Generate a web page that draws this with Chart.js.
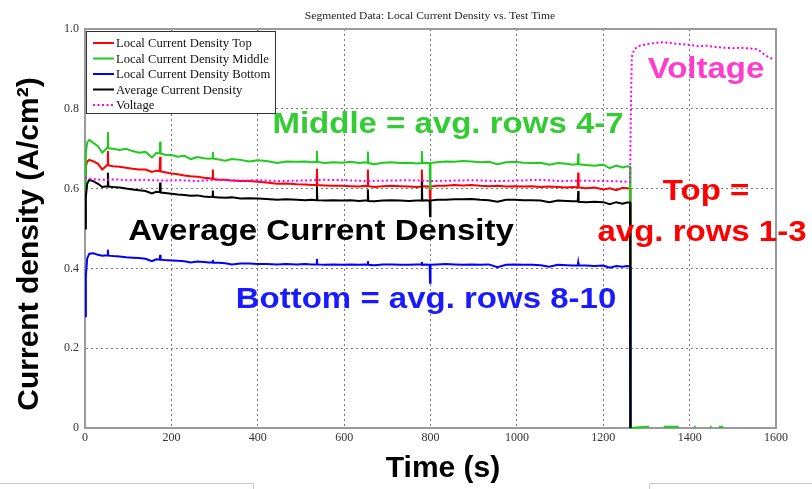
<!DOCTYPE html>
<html>
<head>
<meta charset="utf-8">
<script src="https://cdn.jsdelivr.net/npm/chart.js@4.4.1/dist/chart.umd.min.js"></script>
<style>
  html, body { margin: 0; padding: 0; background: #fff; }
  #wrap { width: 812px; height: 489px; }
</style>
</head>
<body>
<div id="wrap"><canvas id="chart" width="812" height="489"></canvas></div>
<script>
// time axis (s) shared by the four current density traces
const timeCur = [
  0, 2, 5, 10, 20, 30, 40, 52, 53, 54,
  65, 80, 95, 110, 125, 140, 155, 165, 173, 174,
  175, 185, 200, 215, 230, 245, 260, 275, 288, 295,
  296, 297, 310, 325, 340, 360, 380, 400, 420, 445,
  465, 490, 510, 525, 536, 537, 538, 555, 575, 595,
  615, 635, 648, 654, 655, 656, 670, 690, 710, 730,
  750, 768, 779, 780, 781, 790, 798, 799, 800, 815,
  835, 855, 875, 895, 915, 935, 955, 975, 995, 1015,
  1035, 1055, 1075, 1095, 1115, 1130, 1141, 1142, 1143, 1160,
  1180, 1200, 1215, 1230, 1245, 1255, 1262, 1263
];

const topVals = [
  0.620, 0.655, 0.668, 0.672, 0.668, 0.662, 0.648, 0.660, 0.694, 0.658,
  0.656, 0.655, 0.652, 0.650, 0.648, 0.648, 0.642, 0.645, 0.644, 0.680,
  0.643, 0.641, 0.638, 0.636, 0.633, 0.631, 0.630, 0.627, 0.626, 0.625,
  0.648, 0.624, 0.622, 0.622, 0.620, 0.619, 0.619, 0.617, 0.615, 0.612,
  0.613, 0.611, 0.610, 0.609, 0.609, 0.650, 0.609, 0.608, 0.607, 0.607,
  0.606, 0.605, 0.607, 0.606, 0.648, 0.606, 0.604, 0.606, 0.607, 0.606,
  0.605, 0.604, 0.605, 0.648, 0.605, 0.606, 0.605, 0.573, 0.605, 0.607,
  0.607, 0.609, 0.608, 0.609, 0.607, 0.606, 0.607, 0.605, 0.606, 0.605,
  0.606, 0.604, 0.605, 0.604, 0.603, 0.604, 0.603, 0.640, 0.603, 0.601,
  0.603, 0.598, 0.601, 0.596, 0.602, 0.601, 0.600, 0
];

const middleVals = [
  0.600, 0.690, 0.716, 0.722, 0.714, 0.706, 0.690, 0.703, 0.742, 0.701,
  0.700, 0.697, 0.700, 0.694, 0.690, 0.692, 0.678, 0.689, 0.688, 0.718,
  0.688, 0.685, 0.684, 0.680, 0.682, 0.674, 0.679, 0.676, 0.675, 0.676,
  0.692, 0.675, 0.673, 0.670, 0.674, 0.672, 0.668, 0.671, 0.669, 0.664,
  0.668, 0.667, 0.668, 0.666, 0.667, 0.694, 0.667, 0.664, 0.666, 0.665,
  0.667, 0.664, 0.666, 0.665, 0.693, 0.664, 0.661, 0.665, 0.666, 0.664,
  0.665, 0.663, 0.664, 0.694, 0.664, 0.665, 0.664, 0.600, 0.664, 0.666,
  0.668, 0.667, 0.669, 0.668, 0.666, 0.667, 0.661, 0.666, 0.667, 0.665,
  0.664, 0.665, 0.660, 0.664, 0.662, 0.660, 0.662, 0.688, 0.661, 0.659,
  0.657, 0.660, 0.651, 0.658, 0.653, 0.656, 0.655, 0
];

const bottomVals = [
  0.280, 0.380, 0.425, 0.437, 0.438, 0.434, 0.432, 0.433, 0.447, 0.432,
  0.431, 0.430, 0.428, 0.427, 0.426, 0.424, 0.418, 0.423, 0.422, 0.434,
  0.422, 0.421, 0.420, 0.419, 0.418, 0.415, 0.417, 0.416, 0.415, 0.415,
  0.421, 0.414, 0.414, 0.413, 0.410, 0.412, 0.412, 0.411, 0.411, 0.410,
  0.411, 0.410, 0.411, 0.410, 0.410, 0.424, 0.410, 0.409, 0.410, 0.409,
  0.410, 0.409, 0.410, 0.409, 0.418, 0.409, 0.408, 0.410, 0.410, 0.409,
  0.409, 0.410, 0.410, 0.416, 0.409, 0.410, 0.409, 0.364, 0.409, 0.410,
  0.411, 0.410, 0.409, 0.410, 0.409, 0.410, 0.403, 0.409, 0.410, 0.409,
  0.409, 0.408, 0.404, 0.409, 0.408, 0.407, 0.408, 0.415, 0.407, 0.407,
  0.406, 0.407, 0.402, 0.406, 0.404, 0.406, 0.405, 0
];

const averageVals = [
  0.500, 0.580, 0.612, 0.622, 0.618, 0.612, 0.604, 0.606, 0.640, 0.605,
  0.604, 0.603, 0.600, 0.598, 0.596, 0.594, 0.588, 0.592, 0.591, 0.615,
  0.590, 0.589, 0.587, 0.585, 0.584, 0.582, 0.583, 0.580, 0.579, 0.580,
  0.595, 0.579, 0.578, 0.577, 0.578, 0.575, 0.576, 0.575, 0.574, 0.572,
  0.573, 0.572, 0.571, 0.572, 0.571, 0.606, 0.571, 0.570, 0.571, 0.570,
  0.571, 0.569, 0.570, 0.570, 0.598, 0.569, 0.568, 0.570, 0.571, 0.570,
  0.569, 0.570, 0.570, 0.619, 0.570, 0.571, 0.570, 0.531, 0.570, 0.572,
  0.572, 0.573, 0.573, 0.574, 0.572, 0.571, 0.567, 0.572, 0.572, 0.571,
  0.571, 0.570, 0.566, 0.570, 0.569, 0.568, 0.568, 0.594, 0.567, 0.566,
  0.567, 0.566, 0.561, 0.566, 0.562, 0.565, 0.565, 0
];

// short green blips sitting on the axis after the load is switched off
const middleTailTimes = [1300, 1306, 1308, 1340, 1375, 1377, 1410, 1414, 1416, 1447, 1451, 1453, 1468, 1478];
const middleTailVals  = [0.003, 0.003, null, 0.003, 0.003, null, 0.003, 0.003, null, 0.003, 0.003, null, 0.003, 0.003];

const voltTimes = [
  0, 15, 40, 70, 100, 140, 180, 220, 260, 300,
  350, 400, 450, 500, 550, 600, 650, 700, 750, 800,
  850, 900, 950, 1000, 1050, 1100, 1150, 1200, 1240, 1262,
  1264, 1266, 1272, 1285, 1300, 1320, 1340, 1360, 1380, 1400,
  1420, 1440, 1460, 1480, 1500, 1520, 1540, 1552, 1562, 1572,
  1582, 1592
];
const voltVals = [
  0.628, 0.624, 0.622, 0.623, 0.621, 0.622, 0.620, 0.621, 0.619, 0.622,
  0.620, 0.621, 0.619, 0.620, 0.622, 0.621, 0.619, 0.620, 0.621, 0.619,
  0.620, 0.621, 0.619, 0.620, 0.622, 0.619, 0.620, 0.619, 0.618, 0.617,
  0.800, 0.930, 0.950, 0.958, 0.962, 0.965, 0.967, 0.964, 0.962, 0.960,
  0.957, 0.958, 0.955, 0.953, 0.952, 0.953, 0.951, 0.950, 0.945, 0.937,
  0.930, 0.925
];

const xTicks = [0, 200, 400, 600, 800, 1000, 1200, 1400, 1600];
const yTicks = [0, 0.2, 0.4, 0.6, 0.8, 1.0];

const SERIF = '"Liberation Serif", "Times New Roman", serif';
const SANS = '"Liberation Sans", Arial, sans-serif';

function pts(xs, ys) {
  return xs.map((t, i) => ({ x: t, y: ys[i] }));
}

// text with a slight horizontal stretch (the original slide was scaled wider)
function drawText(ctx, text, x, y, sx, align) {
  ctx.save();
  ctx.translate(x, y);
  ctx.scale(sx, 1);
  ctx.textAlign = align || 'center';
  ctx.fillText(text, 0, 0);
  ctx.restore();
}

const annotations = [
  { text: 'Middle = avg. rows 4-7', color: '#33cc33', x: 448, y: 133 },
  { text: 'Average Current Density', color: '#000000', x: 321, y: 240 },
  { text: 'Bottom = avg. rows 8-10', color: '#1a1aff', x: 426, y: 308 },
  { text: 'Voltage', color: '#ff3ccc', x: 706, y: 78 },
  { text: 'Top =', color: '#ff0000', x: 706, y: 200 },
  { text: 'avg. rows 1-3', color: '#ff0000', x: 702, y: 241 }
];

const decor = {
  id: 'decor',
  beforeDatasetsDraw(chart) {
    const { ctx, chartArea: a } = chart;
    ctx.save();
    ctx.strokeStyle = '#9a9a9a';
    ctx.lineWidth = 2;
    ctx.strokeRect(a.left, a.top, a.right - a.left, a.bottom - a.top);
    ctx.restore();
  },
  afterDraw(chart) {
    const { ctx, chartArea: a } = chart;
    ctx.save();

    // title
    ctx.fillStyle = '#222';
    ctx.font = '10.5px ' + SERIF;
    ctx.textBaseline = 'middle';
    drawText(ctx, 'Segmented Data: Local Current Density vs. Test Time', 430, 16, 1.1);

    // axis titles
    ctx.fillStyle = '#000';
    ctx.font = 'bold 30px ' + SANS;
    ctx.textBaseline = 'alphabetic';
    drawText(ctx, 'Time (s)', 443, 477, 1.0);
    ctx.save();
    ctx.translate(30, 244);
    ctx.rotate(-Math.PI / 2);
    ctx.textAlign = 'center';
    ctx.textBaseline = 'middle';
    ctx.fillText('Current density (A/cm\u00b2)', 0, 0);
    ctx.restore();

    // annotations
    ctx.font = 'bold 30px ' + SANS;
    ctx.textBaseline = 'alphabetic';
    annotations.forEach(n => {
      ctx.fillStyle = n.color;
      drawText(ctx, n.text, n.x, n.y, 1.1);
    });

    // legend box
    const lx = a.left + 1, ly = a.top + 2, lw = 189, lh = 82;
    ctx.fillStyle = '#fff';
    ctx.fillRect(lx, ly, lw, lh);
    ctx.strokeStyle = '#333';
    ctx.lineWidth = 1;
    ctx.strokeRect(lx + 0.5, ly + 0.5, lw, lh);
    ctx.font = '11.5px ' + SERIF;
    ctx.textBaseline = 'middle';
    chart.data.datasets.filter(d => d.inLegend).forEach((d, i) => {
      const yy = ly + 12 + i * 15.5;
      ctx.strokeStyle = d.borderColor;
      ctx.lineWidth = 2;
      ctx.setLineDash(d.borderDash || []);
      ctx.beginPath();
      ctx.moveTo(lx + 7, yy);
      ctx.lineTo(lx + 28, yy);
      ctx.stroke();
      ctx.setLineDash([]);
      ctx.fillStyle = '#111';
      drawText(ctx, d.label, lx + 30, yy + 1, 1.1, 'left');
    });

    // edges of neighbouring slide boxes
    ctx.strokeStyle = '#c8c8c8';
    ctx.lineWidth = 1;
    ctx.beginPath();
    ctx.moveTo(0, 483.5); ctx.lineTo(253.5, 483.5); ctx.lineTo(253.5, 489);
    ctx.moveTo(649.5, 489); ctx.lineTo(649.5, 483.5); ctx.lineTo(812, 483.5);
    ctx.stroke();

    ctx.restore();
  }
};

const tickFont = { family: SERIF, size: 12 };

new Chart(document.getElementById('chart'), {
  type: 'line',
  data: {
    datasets: [
      { label: 'Local Current Density Top', data: pts(timeCur, topVals), borderColor: '#ff0000', order: 4, inLegend: true },
      { label: 'Local Current Density Middle', data: pts(timeCur, middleVals).concat(pts(middleTailTimes, middleTailVals)), borderColor: '#1ecb1e', order: 3, inLegend: true, clip: 4 },
      { label: 'Local Current Density Bottom', data: pts(timeCur, bottomVals), borderColor: '#0000ff', order: 2, inLegend: true },
      { label: 'Average Current Density', data: pts(timeCur, averageVals), borderColor: '#000000', order: 1, inLegend: true },
      { label: 'Voltage', data: pts(voltTimes, voltVals), borderColor: '#ff00ff', borderDash: [2, 2.5], order: 0, inLegend: true }
    ]
  },
  options: {
    responsive: false,
    animation: false,
    spanGaps: false,
    elements: {
      point: { radius: 0 },
      line: { borderWidth: 2, tension: 0, fill: false }
    },
    layout: { padding: { top: 29, right: 36, left: 0, bottom: 0 } },
    plugins: {
      legend: { display: false },
      title: { display: false },
      tooltip: { enabled: false }
    },
    scales: {
      x: {
        type: 'linear',
        min: xTicks[0],
        max: xTicks[xTicks.length - 1],
        afterBuildTicks: s => { s.ticks = xTicks.map(v => ({ value: v })); },
        afterFit: s => { s.height = 61; },
        ticks: {
          color: '#333', font: tickFont, padding: 3, maxRotation: 0, autoSkip: false,
          callback: v => String(v)
        },
        grid: { color: '#7a7a7a', lineWidth: 1, drawTicks: false },
        border: { color: '#9a9a9a', width: 2, dash: [2, 3] }
      },
      y: {
        type: 'linear',
        min: yTicks[0],
        max: yTicks[yTicks.length - 1],
        afterBuildTicks: s => { s.ticks = yTicks.map(v => ({ value: v })); },
        afterFit: s => { s.width = 85; },
        ticks: {
          color: '#333', font: tickFont, padding: 6,
          callback: v => v === 0 ? '0' : v.toFixed(1)
        },
        grid: { color: '#7a7a7a', lineWidth: 1, drawTicks: false },
        border: { color: '#9a9a9a', width: 2, dash: [2, 3] }
      }
    }
  },
  plugins: [decor]
});
</script>
</body>
</html>
